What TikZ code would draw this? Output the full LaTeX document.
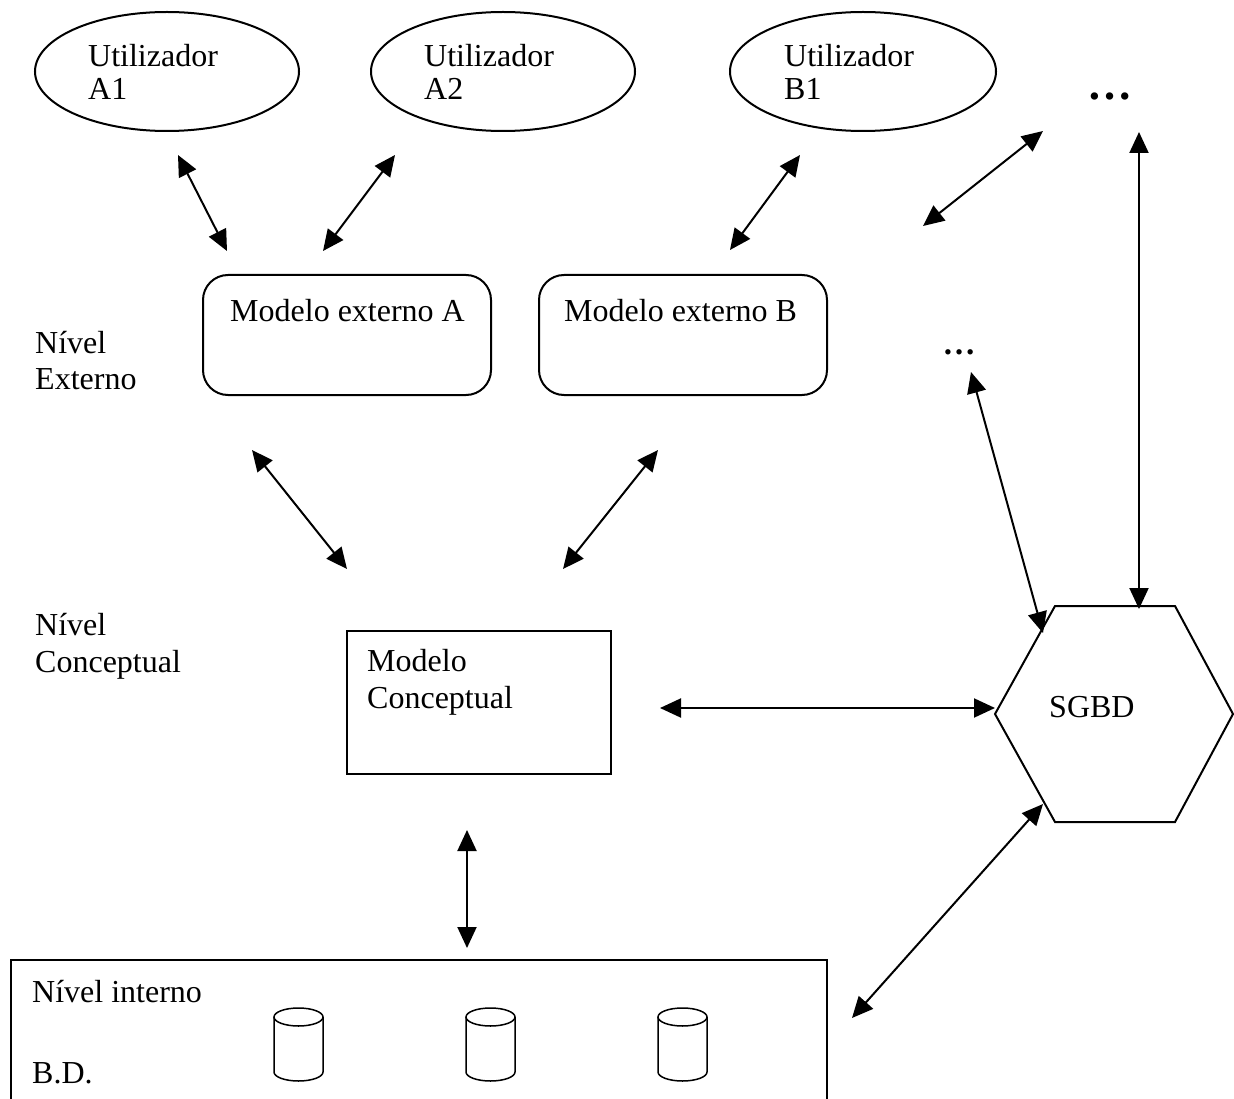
\documentclass[tikz,border=0pt]{standalone}
\usepackage{fontspec}
\setmainfont{Liberation Serif}
\usetikzlibrary{arrows.meta,shapes.geometric}
\begin{document}
\begin{tikzpicture}[x=1pt,y=-1pt,
  lbl/.style={anchor=base west,inner sep=0pt,font=\fontsize{32}{36.8}\selectfont},
  usr/.style={ellipse,draw,line width=2pt,minimum width=264pt,minimum height=119pt,inner sep=0pt},
  extbox/.style={draw,line width=2pt,rounded corners=25pt,minimum width=288pt,minimum height=120pt,inner sep=0pt},
  plainbox/.style={draw,line width=2pt,inner sep=0pt},
  biarrow/.style={line width=2pt,{Triangle[length=21pt,width=19pt]}-{Triangle[length=21pt,width=19pt]}},
  dotsl/.style={anchor=base,inner sep=0pt}
]
\useasboundingbox (0,0) rectangle (1234,1099);
\clip (0,0) rectangle (1234,1099);
\fill[white] (0,0) rectangle (1234,1099);

% users
\node[usr] (uA1) at (167,71.5) {};
\node[usr] (uA2) at (503,71.5) {};
\node[usr,minimum width=266pt] (uB1) at (863,71.5) {};
\node[lbl] (tA1a) at (88,67) {Utilizador};
\node[lbl] (tA1b) at (88,100) {A1};
\node[lbl] (tA2a) at (424,67) {Utilizador};
\node[lbl] (tA2b) at (424,100) {A2};
\node[lbl] (tB1a) at (784,67) {Utilizador};
\node[lbl] (tB1b) at (784,100) {B1};
\node[dotsl,font=\fontsize{45}{45}\selectfont\bfseries] (dots1) at (1110,100) {…};

% external models
\node[extbox] (mA) at (347,335) {};
\node[extbox] (mB) at (683,335) {};
\node[lbl] (tmA) at (230,322) {Modelo externo A};
\node[lbl] (tmB) at (564,322) {Modelo externo B};
\node[dotsl,font=\fontsize{33}{33}\selectfont\bfseries] (dots2) at (959,354) {…};

% level labels
\node[lbl] (ne1) at (35,353) {Nível};
\node[lbl] (ne2) at (35,389) {Externo};
\node[lbl] (nc1) at (35,635) {Nível};
\node[lbl] (nc2) at (35,672) {Conceptual};

% conceptual model
\node[plainbox,minimum width=264pt,minimum height=143pt] (mc) at (479,702.5) {};
\node[lbl] (tmc1) at (367,671) {Modelo};
\node[lbl] (tmc2) at (367,708) {Conceptual};

% SGBD hexagon
\draw[line width=2pt] (995,714) -- (1055,606) -- (1175,606) -- (1233,714) -- (1175,822) -- (1055,822) -- cycle;
\node[lbl] (sgbd) at (1049,717) {SGBD};

% internal level
\node[plainbox,minimum width=816pt,minimum height=180pt] (ni) at (419,1050) {};
\node[lbl] (tni1) at (32,1002) {Nível interno};
\node[lbl] (tni2) at (32,1083) {B.D.};
\foreach \cx/\nm in {298.5/c1,490.5/c2,682.5/c3}{
  \draw[line width=1.5pt] (\cx-24.5,1017) -- (\cx-24.5,1072) arc[start angle=180,end angle=0,x radius=24.5,y radius=9] -- (\cx+24.5,1017);
  \draw[line width=1.5pt] (\cx,1017) ellipse[x radius=24.5,y radius=9];
}

% arrow end points
\coordinate (a1t) at (178,155);  \coordinate (a1b) at (227,251);
\coordinate (a2t) at (395,155);  \coordinate (a2b) at (323,251);
\coordinate (b1t) at (800,155);  \coordinate (b1b) at (730,250);
\coordinate (d1t) at (1043,131); \coordinate (d1b) at (923,226);
\coordinate (vt)  at (1139,132); \coordinate (vb)  at (1139,609);
\coordinate (d2t) at (971,372);  \coordinate (d2b) at (1043,633);
\coordinate (eAt) at (252,450);  \coordinate (eAb) at (347,569);
\coordinate (eBt) at (658,450);  \coordinate (eBb) at (563,569);
\coordinate (hl)  at (660,708);  \coordinate (hr)  at (995,708);
\coordinate (ct)  at (467,830);  \coordinate (cb)  at (467,948);
\coordinate (st)  at (1043,804); \coordinate (sb)  at (852,1018);

\draw[biarrow] (a1t) -- (a1b);
\draw[biarrow] (a2t) -- (a2b);
\draw[biarrow] (b1t) -- (b1b);
\draw[biarrow] (d1t) -- (d1b);
\draw[biarrow] (vt) -- (vb);
\draw[biarrow] (d2t) -- (d2b);
\draw[biarrow] (eAt) -- (eAb);
\draw[biarrow] (eBt) -- (eBb);
\draw[biarrow] (hl) -- (hr);
\draw[biarrow] (ct) -- (cb);
\draw[biarrow] (st) -- (sb);
\end{tikzpicture}
\end{document}
